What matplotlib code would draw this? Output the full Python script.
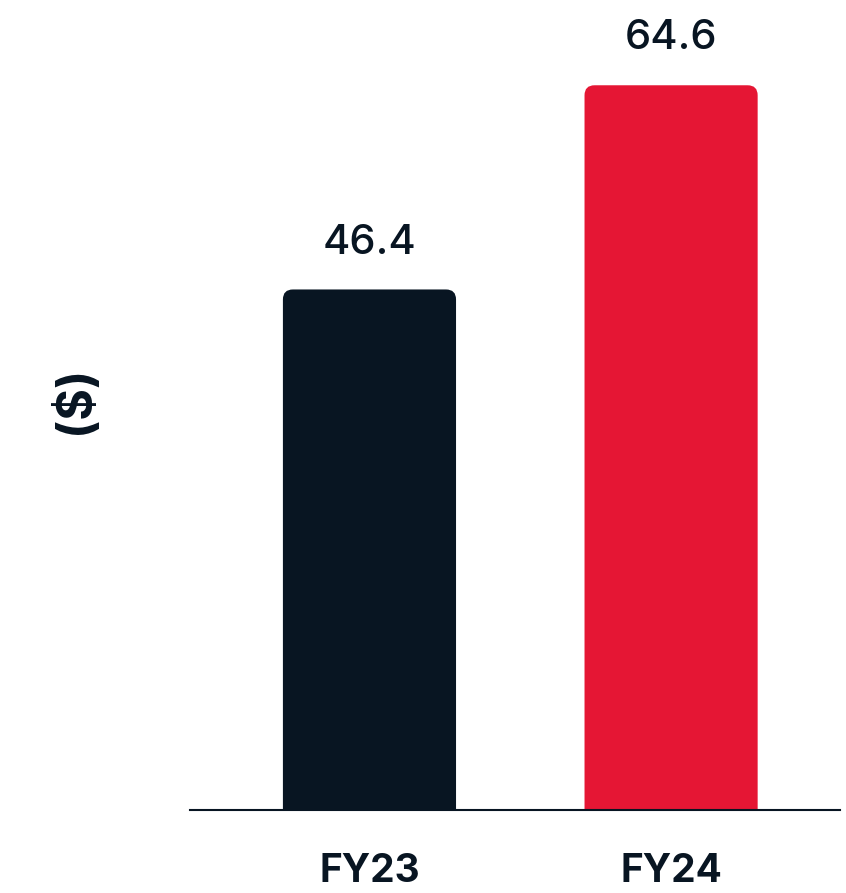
import matplotlib.pyplot as plt
from matplotlib.patches import FancyBboxPatch

categories = ['FY23', 'FY24']
values = [46.4, 64.6]
labels = ['46.4', '64.6']
colors = ['#081522', '#E51634']
dark = '#081522'

fig = plt.figure(figsize=(8.46, 8.93), dpi=100)
ax = fig.add_axes([0.2246, 0.0929, 0.7683, 0.9071])

bars = ax.bar(range(len(categories)), values, width=0.574, color=colors)
ax.set_xlim(-0.595, 1.56)
ax.set_ylim(0, 72.2)

# rounded top corners: swap each bar for a rounded box that dips below the axis
x_px = 301.5
y_px = 810 / 72.2
r = 10 / x_px
for b, c in zip(bars, colors):
    b.set_visible(False)
    box = FancyBboxPatch((b.get_x(), -3), b.get_width(), b.get_height() + 3,
                         boxstyle=f'round,pad=0,rounding_size={r}',
                         mutation_aspect=x_px / y_px,
                         facecolor=c, edgecolor='none', clip_on=True)
    ax.add_patch(box)

for b, lab in zip(bars, labels):
    ax.annotate(lab, (b.get_x() + b.get_width() / 2, b.get_height()),
                xytext=(0, 20), textcoords='offset points',
                ha='center', va='bottom', fontsize=30, color=dark,
                family='Inter', fontweight='medium')

ax.set_xticks(range(len(categories)))
ax.set_xticklabels(categories, fontsize=28, fontweight='bold', family='Inter', color=dark)
ax.tick_params(axis='x', length=0, pad=31)
ax.set_yticks([])

for s in ['top', 'right', 'left']:
    ax.spines[s].set_visible(False)
ax.spines['bottom'].set_linewidth(1.5)
ax.spines['bottom'].set_color(dark)

ax.set_ylabel('($)', fontsize=35, fontweight='bold', family='Inter', color=dark)
ax.yaxis.label.set_va('center')
ax.yaxis.set_label_coords(-0.177, 0.506)

fig.savefig('out.png', dpi=100)
